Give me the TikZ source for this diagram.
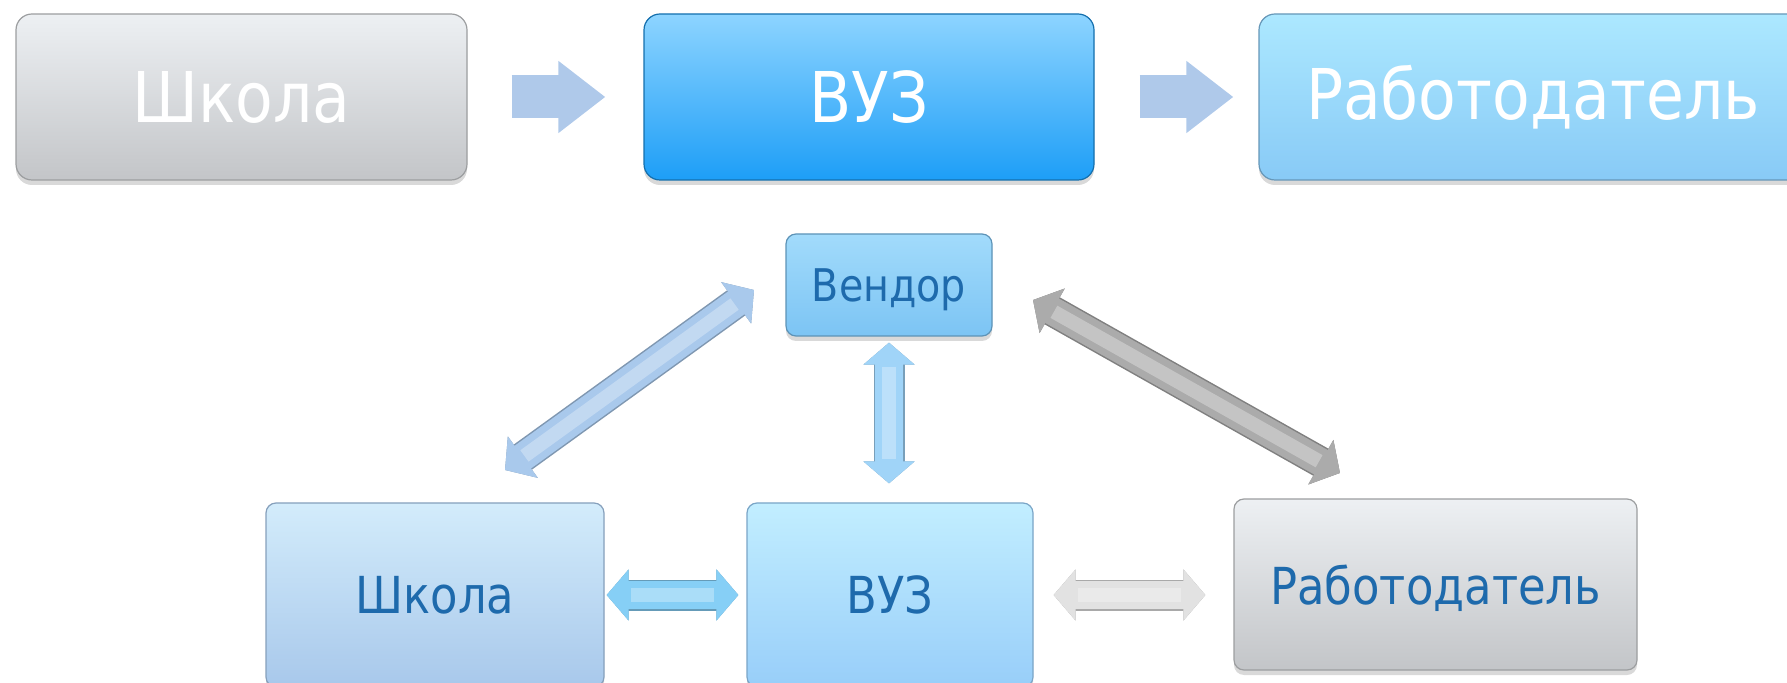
\documentclass[tikz,border=0pt]{standalone}
\usepackage{fontspec}
\setmainfont{DejaVu Sans}
\newfontfamily\narrowfont[FakeStretch=0.88]{DejaVu Sans}
\usetikzlibrary{arrows.meta,calc,shadows}

\definecolor{grayTop}{HTML}{EDF0F3}
\definecolor{grayBot}{HTML}{C3C5C8}
\definecolor{blueTop}{HTML}{8DD4FF}
\definecolor{blueBot}{HTML}{1D9EF7}
\definecolor{skyTop}{HTML}{ACE8FF}
\definecolor{skyBot}{HTML}{88CAF6}
\definecolor{paleTop}{HTML}{D3ECFB}
\definecolor{paleBot}{HTML}{A8C8EB}
\definecolor{iceTop}{HTML}{C2EEFF}
\definecolor{iceBot}{HTML}{98CEF9}
\definecolor{vendTop}{HTML}{A2DBFB}
\definecolor{vendBot}{HTML}{7CC4F4}
\definecolor{darkText}{HTML}{1E6AAC}
\definecolor{arrowBlue}{HTML}{AFC9EA}
\definecolor{leftBlue}{HTML}{A9C9EC}
\definecolor{midBlue}{HTML}{A0D4F8}
\definecolor{linkGray}{HTML}{ABABAB}
\definecolor{cyanBlue}{HTML}{86CFF6}
\definecolor{paleGray}{HTML}{E2E2E2}

\begin{document}
\begin{tikzpicture}[x=0.5pt,y=-0.5pt,
    box/.style={rectangle,inner sep=0pt,draw=#1,line width=0.6pt,
                drop shadow={shadow xshift=0pt,shadow yshift=-2.5pt,opacity=0.3}},
    bigbox/.style={box=#1,rounded corners=8pt,text=white,
                   font=\narrowfont\fontsize{35}{42}\selectfont},
    smallbox/.style={box=#1,rounded corners=5pt,text=darkText,text depth=0pt,
                     font=\narrowfont\fontsize{25.5}{30}\selectfont},
    grayfill/.style={top color=grayTop,bottom color=grayBot},
    bluefill/.style={top color=blueTop,bottom color=blueBot},
    skyfill/.style={top color=skyTop,bottom color=skyBot},
    palefill/.style={top color=paleTop,bottom color=paleBot},
    icefill/.style={top color=iceTop,bottom color=iceBot},
    vendfill/.style={top color=vendTop,bottom color=vendBot},
    flow/.style={draw=#1,line width=21.5pt,-{Triangle[length=23.5pt,width=34.5pt]}},
    link/.style n args={3}{draw=#1,line width=14pt,
                 {Triangle[length=11pt,width=25pt]}-{Triangle[length=11pt,width=25pt]},
                 shorten <=#2,shorten >=#3,
                 preaction={draw=#1!75!black,line width=15.5pt},
                 postaction={draw=white,opacity=0.3,line width=7pt,-,
                             shorten <=#2+12pt,shorten >=#3+12pt}}
  ]
  \useasboundingbox (0,0) rectangle (1787,683);

  % top row
  \node[bigbox=grayBot!80!black,grayfill,minimum width=225.5pt,minimum height=83pt]
    (school) at (241.5,97) {Школа};
  \node[bigbox=blueBot!70!black,bluefill,minimum width=225pt,minimum height=83pt]
    (vuz) at (869,97) {ВУЗ};
  \node[bigbox=skyBot!75!black,skyfill,minimum width=274pt,minimum height=83pt]
    (employer) at (1533,97) {Работодатель};

  \draw[flow=arrowBlue,shorten <=22pt,shorten >=19pt] (school) -- (vuz);
  \draw[flow=arrowBlue,shorten <=22.5pt,shorten >=12.5pt] (vuz) -- (employer);

  % bottom scheme
  \node[smallbox=vendBot!75!black,vendfill,minimum width=103pt,minimum height=51pt,
        font=\narrowfont\fontsize{22.5}{27}\selectfont] (vendor) at (889,285) {Вендор};
  \node[smallbox=paleBot!80!black,palefill,minimum width=169pt,minimum height=92pt]
    (school2) at (435,595) {Школа};
  \node[smallbox=iceBot!80!black,icefill,minimum width=143pt,minimum height=92pt]
    (vuz2) at (890,595) {ВУЗ};
  \node[smallbox=grayBot!80!black,grayfill,minimum width=201.5pt,minimum height=85.5pt]
    (employer2) at (1435.5,584.5) {Работодатель};

  \coordinate (ls) at (505,470);
  \coordinate (le) at (754,290);
  \coordinate (rs) at (1033,300);
  \coordinate (re) at (1340,473);

  \draw[link={leftBlue}{0pt}{0pt}] (ls) -- (le);
  \draw[link={midBlue}{3pt}{9.5pt}] (vendor.south) -- (vendor.south |- vuz2.north);
  \draw[link={linkGray}{0pt}{0pt}] (rs) -- (re);
  \draw[link={cyanBlue}{1pt}{4pt}] (school2) -- (vuz2);
  \draw[link={paleGray}{10pt}{14pt}] (vuz2.east) -- (vuz2.east -| employer2.west);
\end{tikzpicture}
\end{document}
